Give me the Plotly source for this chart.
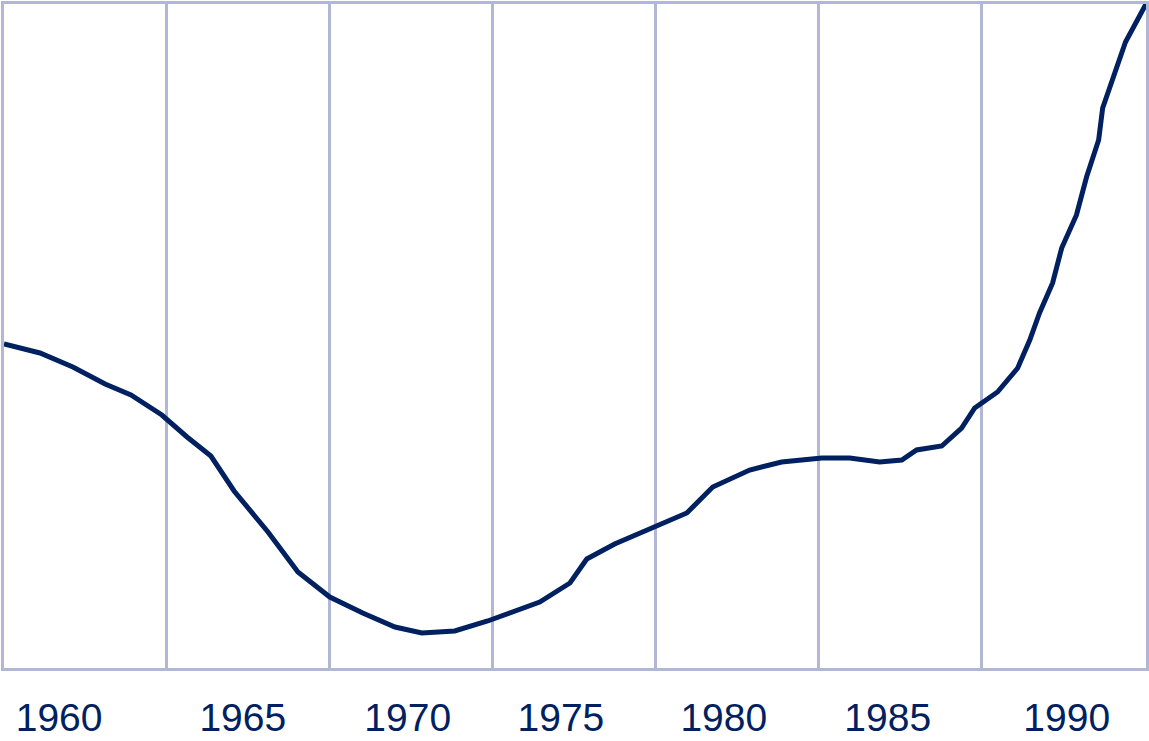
import plotly.graph_objects as go

years = [1958.4, 1959.47, 1960.45, 1961.41, 1962.18, 1963.10, 1963.85, 1964.56, 1965.25,
         1966.26, 1967.15, 1968.10, 1969.08, 1970.04, 1970.84, 1971.82, 1972.80, 1973.82,
         1974.35, 1975.25, 1975.75, 1976.58, 1977.63, 1978.73, 1979.50, 1980.60, 1981.55,
         1982.75, 1983.58, 1984.47, 1985.13, 1985.57, 1986.32, 1986.91, 1987.30, 1987.98,
         1988.58, 1988.94, 1989.23, 1989.62, 1989.89, 1990.33, 1990.63, 1990.99, 1991.11,
         1991.79, 1992.4]
values = [32.4, 31.5, 30.1, 28.4, 27.3, 25.3, 23.1, 21.2, 17.7,
          13.6, 9.6, 7.1, 5.5, 4.1, 3.5, 3.7, 4.7, 6.0,
          6.6, 8.5, 10.9, 12.4, 13.9, 15.5, 18.1, 19.8, 20.6,
          21.0, 21.0, 20.6, 20.8, 21.8, 22.2, 24.0, 26.0, 27.6,
          30.0, 32.8, 35.5, 38.5, 42.0, 45.3, 49.1, 52.8, 56.0,
          62.6, 66.4]

grid_years = [1963.24, 1968.10, 1972.95, 1977.80, 1982.66, 1987.51]
label_years = [1960.04, 1965.51, 1970.42, 1974.98, 1979.83, 1984.71, 1990.04]
label_text = ["1960", "1965", "1970", "1975", "1980", "1985", "1990"]

grid_color = "#b1b7d4"
navy = "#002060"

fig = go.Figure()
fig.add_trace(go.Scatter(x=years, y=values, mode="lines",
                         line=dict(color=navy, width=5), hoverinfo="skip"))

fig.update_layout(
    width=1149, height=741,
    margin=dict(l=4, r=3, t=4, b=73, autoexpand=False),
    paper_bgcolor="white", plot_bgcolor="white",
    showlegend=False,
    xaxis=dict(
        range=[1958.4, 1992.4], automargin=False,
        tickmode="array", tickvals=label_years, ticktext=label_text,
        showgrid=False, zeroline=False,
        showline=True, mirror=True, linecolor=grid_color, linewidth=3,
        ticks="", ticklabelstandoff=13,
        tickfont=dict(family="Liberation Sans, Arial, sans-serif", size=39, color=navy),
        minor=dict(tickmode="array", tickvals=grid_years, showgrid=True,
                   gridcolor=grid_color, gridwidth=3, ticks=""),
    ),
    yaxis=dict(
        range=[0, 66.4], automargin=False,
        showgrid=False, zeroline=False, showticklabels=False, ticks="",
        showline=True, mirror=True, linecolor=grid_color, linewidth=3,
    ),
)

fig.write_html("out.html", config={"displayModeBar": False},
               post_script="document.body.style.margin='0';document.body.style.overflow='hidden';")
